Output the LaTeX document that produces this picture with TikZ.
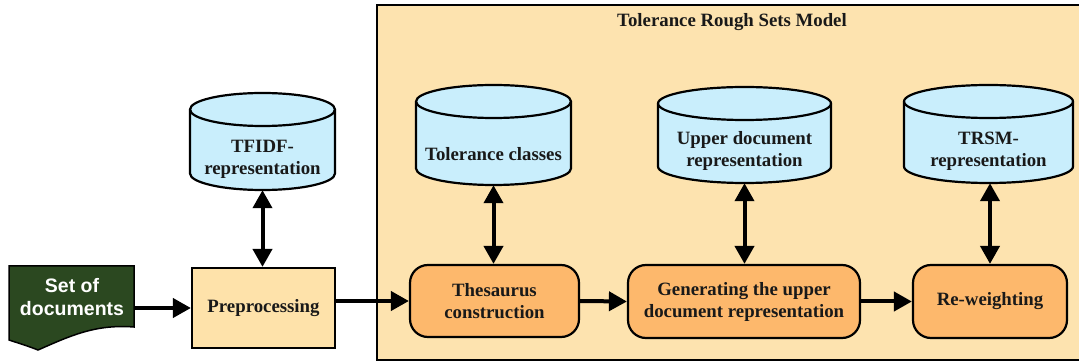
\documentclass[tikz,border=0pt]{standalone}
\usepackage{fontspec}
\setmainfont{Liberation Serif}
\newfontfamily\sodfont{Liberation Sans}
\usetikzlibrary{arrows.meta,calc}
\definecolor{bigfill}{HTML}{FDE3AF}
\definecolor{prefill}{HTML}{FEE2AA}
\definecolor{cylfill}{HTML}{C9EEFC}
\definecolor{orfill}{HTML}{FDB86C}
\definecolor{docgreen}{HTML}{2B4820}
\tikzset{
  lbl/.style={font=\fontsize{18.8}{22}\selectfont\bfseries, align=center, inner sep=0pt, text=black!90},
  cylbox/.style={draw=none, inner sep=0pt},
  procbox/.style={draw=black, line width=2.2pt, fill=orfill, rounded corners=18pt, inner sep=0pt, align=center,
    font=\fontsize{18.8}{22}\selectfont\bfseries, text=black!90},
  conn/.style={line width=4pt, -{Triangle[length=18pt 0,width=19pt 0]}},
  dconn/.style={line width=4pt, {Triangle[length=18pt 0,width=19pt 0]}-{Triangle[length=18pt 0,width=19pt 0]}},
  pics/dbcyl/.style 2 args={code={
    \path[fill=cylfill, draw=black, line width=2.2pt]
      (-#1/2, #2/2-16.5) -- (-#1/2, -#2/2+16.5)
      arc[start angle=180, end angle=360, x radius=#1/2, y radius=16.5]
      -- (#1/2, #2/2-16.5)
      arc[start angle=0, end angle=180, x radius=#1/2, y radius=16.5] -- cycle;
    \draw[line width=2.2pt] (-#1/2, #2/2-16.5)
      arc[start angle=180, end angle=360, x radius=#1/2, y radius=16.5];
  }}
}
\begin{document}
\begin{tikzpicture}[x=1pt,y=1pt]
\useasboundingbox (0,0) rectangle (1079,-363);
\fill[white] (0,0) rectangle (1079,-363);

% Tolerance Rough Sets Model frame
\fill[bigfill] (377,-5) rectangle (1079,-360);
\draw[line width=2.2pt] (1090,-5) -- (377,-5) -- (377,-360) -- (1090,-360);
\node[lbl] (title) at (732,-22) {Tolerance Rough Sets Model};

% Set of documents
\fill[docgreen, draw=black, line width=1.5pt]
  (9,-266) -- (134,-266) -- (134,-327)
  .. controls (95,-324) and (70,-336) .. (38,-350)
  .. controls (28,-346) and (18,-343) .. (9,-340) -- cycle;
\node[cylbox, minimum width=125pt, minimum height=62pt] (sod) at (71.5,-297) {};
\node[font=\sodfont\fontsize{19.5}{23}\selectfont\bfseries, text=white, align=center, inner sep=0pt] (sodt) at (72,-297.5) {Set of\\documents};

% Preprocessing
\node[draw=black, line width=2.2pt, fill=prefill, minimum width=143pt, minimum height=80pt, inner sep=0pt,
  font=\fontsize{18.8}{22}\selectfont\bfseries, text=black!90] (pre) at (263.5,-308) {Preprocessing};

% TFIDF cylinder
\node[cylbox, minimum width=145pt, minimum height=97pt] (tfidf) at (262.5,-141.5) {};
\pic at (tfidf) {dbcyl={145}{97}};
\node[lbl] (tfidft) at ($(tfidf.south)+(0,31)$) {TFIDF-\\representation};

% Tolerance classes cylinder
\node[cylbox, minimum width=155pt, minimum height=100pt] (tol) at (493.5,-135) {};
\pic at (tol) {dbcyl={155}{100}};
\node[lbl] (tolt) at ($(tol.south)+(0,31)$) {Tolerance classes};

% Upper document representation cylinder
\node[cylbox, minimum width=173pt, minimum height=96pt] (upp) at (744.5,-135) {};
\pic at (upp) {dbcyl={173}{96}};
\node[lbl] (uppt) at ($(upp.south)+(0,32)$) {Upper document\\representation};

% TRSM cylinder
\node[cylbox, minimum width=169pt, minimum height=98pt] (trsm) at (988.5,-134) {};
\pic at (trsm) {dbcyl={169}{98}};
\node[lbl] (trsmt) at ($(trsm.south)+(0,31.5)$) {TRSM-\\representation};

% Process boxes
\node[procbox, minimum width=169pt, minimum height=72pt] (the) at (494.5,-301) {Thesaurus\\construction};
\node[procbox, minimum width=232pt, minimum height=73pt] (gen) at (744,-301.5) {Generating the upper\\document representation};
\node[procbox, minimum width=154pt, minimum height=73pt] (rew) at (990,-301.5) {Re-weighting};

% Connectors
\draw[conn] (sod.east |- pre.west) -- (pre.west);
\draw[conn] (pre.east |- the.west) -- (the.west);
\draw[conn] (the.east) -- (gen.west);
\draw[conn] (gen.east) -- (rew.west);
\draw[dconn] (tfidf.south) -- (tfidf.south |- pre.north);
\draw[dconn] (tol.south) -- (tol.south |- the.north);
\draw[dconn] (upp.south) -- (upp.south |- gen.north);
\draw[dconn] (trsm.south -| rew.north) -- (rew.north);
\end{tikzpicture}
\end{document}
